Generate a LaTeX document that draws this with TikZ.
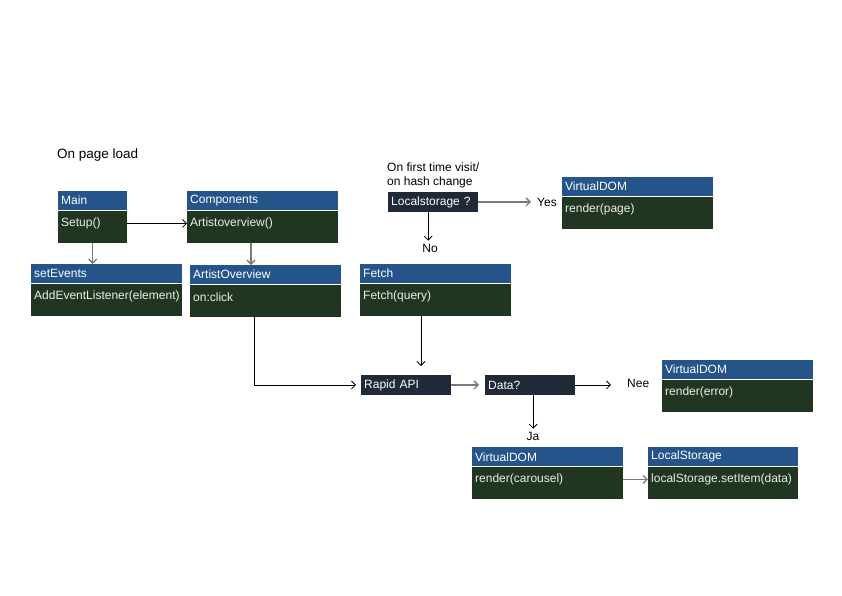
\documentclass[tikz,border=0pt]{standalone}
\usepackage{fontspec}
\setmainfont{Liberation Sans}
\usetikzlibrary{arrows.meta,calc}

\definecolor{hdrblue}{HTML}{25548A}
\definecolor{bodygreen}{HTML}{213620}
\definecolor{navybox}{HTML}{1F2937}
\definecolor{linkgray}{HTML}{7A7A7A}
\definecolor{paletext}{HTML}{EDEDED}

\tikzset{
  hdrbox/.style={fill=hdrblue, draw=none, minimum height=19pt, inner sep=0pt},
  bodybox/.style={fill=bodygreen, draw=none, minimum height=32pt, inner sep=0pt},
  hdrtext/.style={anchor=west, inner sep=0pt, text=white, font=\fontsize{12}{14}\selectfont},
  bodytext/.style={anchor=west, inner sep=0pt, text=paletext, font=\fontsize{12}{14}\selectfont},
  navy/.style={fill=navybox, text=white, anchor=north west, minimum height=19.5pt,
    text width=84pt, inner xsep=3pt, inner ysep=0pt, align=left,
    font=\fontsize{12}{14}\selectfont},
  lbl/.style={inner sep=0pt, font=\fontsize{12}{14}\selectfont},
  arr/.style={-{Straight Barb[length=4pt,width=8pt]}, line width=0.8pt, black},
  garr/.style={arr, draw=linkgray, line width=1.3pt},
}

% header strip + body panel, with names #1-h (header) and #1 (body)
\newcommand\classbox[6]{%
  \node[hdrbox, minimum width=#4pt, anchor=north west] (#1-h) at (#2,#3) {};
  \node[hdrtext] (#1-ht) at ($(#1-h.west)+(3,0)$) {#5};
  \node[bodybox, minimum width=#4pt, anchor=north west] (#1) at (#1-h.south west) {};
  \node[bodytext] (#1-t) at ($(#1.north west)+(3,13)$) {#6};
}

\begin{document}
\begin{tikzpicture}[x=1pt,y=-1pt]
  \fill[white] (0,0) rectangle (842,595);
  \useasboundingbox (0,0) rectangle (842,595);

  \node[lbl, anchor=west, font=\fontsize{13.5}{16}\selectfont] (pageload) at (57,155) {On page load};

  % class boxes
  \classbox{main}{58}{191}{69}{Main}{Setup()}
  \classbox{comp}{187}{191}{151}{Components}{Artistoverview()}
  \classbox{setev}{31}{264}{151}{setEvents}{AddEventListener(element)}
  \classbox{art}{190}{265}{151}{ArtistOverview}{on:click}
  \classbox{fetch}{360}{264}{151}{Fetch}{Fetch(query)}
  \classbox{vpage}{562}{177}{151}{VirtualDOM}{render(page)}
  \classbox{verr}{662}{360}{151}{VirtualDOM}{render(error)}
  \classbox{vcar}{472}{447}{151}{VirtualDOM}{render(carousel)}
  \classbox{lstore}{648}{447}{150}{LocalStorage}{localStorage.setItem(data)}

  % decision / service boxes
  \node[navy] (lsq) at (388,192) {Localstorage ?};
  \node[navy] (rapid) at (361,375) {Rapid API};
  \node[navy] (data) at (485,375) {Data?};

  % free labels
  \node[lbl, anchor=west, align=left] (visit) at (387,175) {On first time visit/\\on hash change};
  \node[lbl, anchor=west] (yes) at (537,202) {Yes};
  \node[lbl] (no) at (430,248) {No};
  \node[lbl, anchor=west] (nee) at (627,383) {Nee};
  \node[lbl] (ja) at (533,436) {Ja};

  % connectors
  \draw[garr] (main.south) -- (main.south |- setev-h.north);
  \draw[arr] (main.east |- main-t) -- (comp.west |- main-t);
  \coordinate (compdown) at ($(comp.south west)+(64,0)$);
  \draw[garr] (compdown) -- (compdown |- art-h.north);
  \coordinate (artdown) at ($(art.south west)+(64,0)$);
  \draw[arr, shorten >=5pt] (artdown) |- (rapid.west);
  \coordinate (fetchdown) at ($(fetch.south west)+(61,0)$);
  \draw[arr, shorten >=9pt] (fetchdown) -- (fetchdown |- rapid.north);
  \draw[garr, shorten >=6pt] (lsq.east) -- (lsq.east -| yes.west);
  \coordinate (lsqdown) at ($(lsq.south)+(-5,0)$);
  \draw[arr, shorten >=3pt] (lsqdown) -- (lsqdown |- no.north);
  \draw[garr, shorten >=6pt] (rapid.east) -- (data.west);
  \draw[arr, shorten >=16pt] (data.east) -- (data.east -| nee.west);
  \coordinate (datadown) at ($(data.south)+(3,0)$);
  \draw[arr, shorten >=3pt] (datadown) -- (datadown |- ja.north);
  \draw[garr] (vcar.east |- vcar-t) -- (lstore.west |- vcar-t);
\end{tikzpicture}
\end{document}
